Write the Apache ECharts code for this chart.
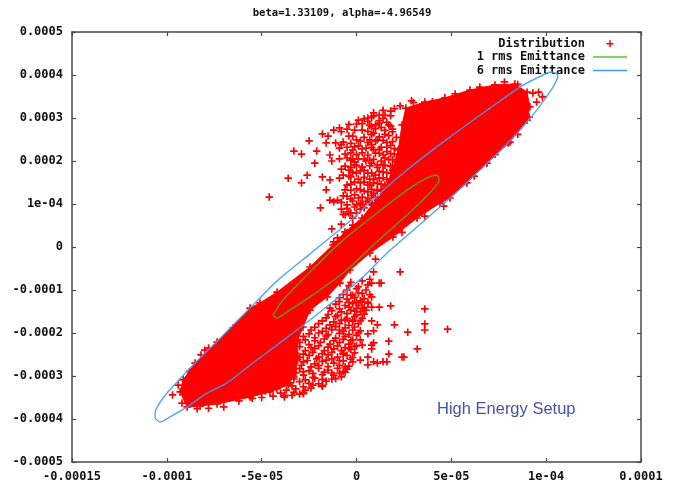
<!DOCTYPE html>
<html>
<head>
<meta charset="utf-8">
<style>html,body{margin:0;padding:0;background:#fff}#c{width:674px;height:490px}</style>
<script src="https://cdn.jsdelivr.net/npm/echarts@6/dist/echarts.min.js"></script>
</head>
<body>
<div id="c"></div>
<script>
// all point values are in units of 1e-6
const xTickLabels = ['-0.00015','-0.0001','-5e-05','0','5e-05','1e-04','0.0001'];
const yTickLabels = ['-0.0005','-0.0004','-0.0003','-0.0002','-0.0001','0','1e-04','0.0002','0.0003','0.0004','0.0005'];
const titleText = 'beta=1.33109, alpha=-4.96549';
const noteText = 'High Energy Setup';

const rms1 = [[-44,-158],[-38.7,-123],[-24.5,-58],[-7.1,16],[10.8,79],[28.2,137],[37.2,160.5],[42.4,167.5],[43.5,156],[38.7,126],[28.2,81],[10.8,12],[-7.1,-60.5],[-24.5,-116],[-36.6,-151],[-41.9,-165],[-44,-158]];

const rms6 = [[-106.2,-398],[-106.2,-386],[-102,-351],[-94.6,-314],[-86.2,-274.5],[-71.9,-212],[-56.1,-142],[-41.4,-77],[-24.5,-16],[-3.4,60.5],[10.8,118.6],[26.6,179],[49.3,256],[70.4,323],[86.2,372],[98.3,400],[103,407],[106.2,398],[103.6,372],[95.1,319],[87.7,279],[77.2,230],[65.1,179],[49.3,114],[31.9,46.5],[16.1,-14],[3.4,-70],[-19.2,-151],[-33.5,-200],[-45.6,-240],[-56.1,-274.5],[-68.2,-316],[-78.8,-340],[-89.3,-372],[-98.3,-395],[-103.6,-407],[-106.2,-398]];

// outline of the region where the marks merge into solid red
const solidCore = [[-89.3,-372],[-93,-337],[-91.4,-309],[-85.1,-270],[-73.5,-221],[-56.1,-142],[-50.9,-130],[-41.9,-105],[-24.5,-46.5],[-12.4,5],[-6.1,35],[2.9,67.5],[8.2,98],[15,133],[19,179],[22,226],[24,284],[26,323],[36,337],[46.6,347],[59.8,365],[73,377],[83.5,379],[89.9,360],[91.4,326],[89.9,295],[80.9,244],[68.8,195],[58.2,149],[49.3,114],[44,102],[31.9,67.5],[19.2,23],[7.1,-14],[-3.4,-53.5],[-8.7,-84],[-15.5,-116],[-24.5,-147],[-28.2,-186],[-31,-216],[-31,-256],[-32,-293],[-36,-321],[-45.6,-337],[-56,-349],[-73.5,-365],[-82.5,-370]];

const upperCloud = [[-46,116],[-36,160],[-29,149],[-26,167],[-33,223],[-29,216],[-25,247],[-21,223],[-22,195],[-18,163],[-14,156],[-16,133],[-14,109],[-10,109],[-19,91],[-13,42],[-14,214],[-13,200],[-18,263],[-16,242],[-15,258],[-12,272],[-9,277],[-5,274],[0,286],[6,300],[10,284],[-11,242],[-2,258],[3,272],[7,249],[0,249],[11,249],[-2,226],[3,219],[9,226],[-9,205],[-5,207],[-1,198],[3,186],[7,202],[11,191],[-8,181],[-4,179],[-7,167],[-4,165],[0,172],[6,172],[10,167],[-1,151],[4,151],[9,149],[-5,144],[-6,133],[2,133],[6,128],[11,133],[-7,119],[-3,112],[1,114],[6,114],[-8,88],[-5,98],[0,98],[4,91],[-3,79],[0,79],[-2,67],[-8,53],[-2,51],[-5,33],[-7,23],[-12,12],[-10,21],
[18,316],[20,322],[12,307],[9,305],[15,307],[18,305],[6,292],[12,294],[16,290],[8,280],[13,278],[18,281],[9,265],[15,262],[19,268],[14,248],[8,238],[13,232],[18,236],[12,218],[16,222],[20,216],[15,207],[19,203],[8,195],[14,190],[18,188],[4,178],[14,174],[18,172],[7,158],[12,160],[16,157],[6,145],[13,146],[17,143],[9,125],[13,130],[16,127],[3,100],[7,104],[11,108],[14,115],[0,190],[-3,185],[4,205],[0,215],[-5,232],[-8,238],[1,235],[5,230],[-2,205],[-12,105],[-6,75],[14,318],[9,312],[4,298],[1,295],[-4,285],[-8,268]];

const upperCloudDense = [[8,302],[14,299],[3,287],[7,283],[12,288],[17,284],[-1,272],[6,269],[10,275],[15,271],[19,274],[-4,258],[4,255],[8,261],[12,256],[17,259],[21,255],[-7,244],[-3,241],[2,246],[6,243],[10,246],[16,243],[19,245],[-9,230],[-1,233],[3,228],[8,231],[12,227],[16,232],[20,229],[-6,216],[-3,219],[6,214],[10,218],[14,214],[18,217],[-3,202],[1,205],[5,200],[9,204],[13,200],[17,203],[21,199],[-6,188],[-1,191],[3,186],[7,189],[11,185],[15,190],[19,187],[-2,174],[2,177],[8,172],[12,176],[16,173],[20,175],[-9,160],[-3,163],[1,158],[4,162],[9,157],[14,161],[18,158],[-3,146],[2,149],[7,144],[11,148],[15,144],[18,147],[-3,132],[0,135],[4,130],[8,134],[11,131],[14,134],[-5,118],[-1,121],[3,116],[8,120],[10,116],[-8,104],[-2,107],[2,102],[5,106],[8,102],[-5,90],[-1,93],[2,88],[-7,76],[-4,79]];

const lowerCloud = [[23,-58],[9,-58],[10,-28],[8,-84],[12,-84],[13,-84],[18,-137],[8,-140],[12,-140],[36,-144],[8,-172],[11,-181],[20,-181],[36,-179],[36,-193],[27,-198],[48,-191],[17,-219],[32,-237],[17,-249],[24,-256],[25,-256],[9,-195],[2,-195],[6,-202],[2,-216],[-2,-216],[3,-228],[0,-230],[8,-228],[9,-223],[8,-237],[-4,-235],[-7,-247],[-2,-267],[2,-263],[6,-274],[6,-256],[9,-267],[11,-270],[14,-267],[16,-267],[-6,-279],[-6,-291],[-9,-293],[-1,-149],[3,-142],[3,-128],[0,-128],[1,-107],[-3,-112],[-2,-170],[-6,-170],[-9,-193],[-2,-193],
[-50,-350],[-44,-347],[-38,-349],[-34,-345],[-30,-342],[-48,-335],[-42,-330],[-37,-333],[-32,-330],[-27,-333],[-24,-328],[-46,-318],[-41,-314],[-35,-316],[-30,-313],[-25,-317],[-20,-318],[-16,-312],[-13,-307],[-43,-300],[-38,-297],[-33,-302],[-28,-298],[-23,-303],[-18,-297],[-12,-298],[-8,-302],[-40,-283],[-35,-287],[-30,-283],[-25,-288],[-20,-282],[-15,-286],[-10,-282],[-5,-284],[-39,-268],[-33,-272],[-28,-267],[-22,-272],[-18,-266],[-12,-270],[-7,-265],[-35,-252],[-30,-257],[-25,-252],[-20,-256],[-15,-251],[-10,-256],[-5,-252],[-2,-257],[-34,-238],[-27,-241],[-22,-236],[-17,-241],[-12,-237],[-8,-241],[-3,-238],[-30,-222],[-25,-227],[-19,-222],[-14,-226],[-9,-222],[-4,-226],[-28,-208],[-22,-211],[-16,-207],[-11,-212],[-6,-208],[0,-205],[-24,-193],[-18,-196],[-13,-192],[-7,-196],[-20,-178],[-14,-181],[-9,-178],[-4,-182],[1,-178],[-16,-165],[-11,-162],[-5,-166],[-1,-162],[3,-166],[-13,-148],[-8,-151],[-3,-147],[2,-151],[5,-147],[-11,-133],[-6,-136],[-2,-132],[1,-136],[6,-131],[-9,-118],[-5,-121],[-1,-117],[4,-120],[8,-116],[-5,-100],[0,-97],[5,-100],[-3,-82],[3,-79],[7,-75]];

const lowerCloudDense = [[-40,-340],[-33,-338],[-28,-341],[-34,-323],[-28,-325],[-23,-321],[-18,-324],[-33,-307],[-27,-309],[-22,-305],[-18,-308],[-11,-306],[-33,-292],[-28,-290],[-23,-294],[-17,-291],[-13,-293],[-7,-290],[-34,-277],[-29,-275],[-24,-279],[-20,-276],[-15,-278],[-9,-275],[-4,-277],[-31,-262],[-26,-264],[-21,-260],[-16,-263],[-13,-260],[-9,-264],[-3,-261],[-32,-247],[-28,-249],[-23,-245],[-18,-248],[-13,-245],[-7,-249],[-1,-246],[-30,-232],[-24,-234],[-20,-230],[-15,-233],[-10,-230],[-6,-234],[-1,-231],[-27,-216],[-22,-218],[-17,-214],[-12,-218],[-7,-215],[-3,-217],[-25,-202],[-20,-200],[-15,-204],[-9,-201],[-4,-203],[1,-200],[-22,-187],[-16,-189],[-11,-185],[-6,-188],[-1,-186],[-18,-172],[-12,-174],[-8,-170],[-2,-173],[2,-171],[-15,-157],[-10,-159],[-5,-155],[0,-158],[4,-156],[-14,-142],[-9,-144],[-4,-140],[0,-143],[4,-141],[-9,-127],[-4,-129],[2,-125],[6,-128],[-7,-110],[-2,-112],[3,-108],[7,-111],[-4,-90],[1,-92],[6,-88]];

const fringeCloud = [[93,358],[98,349],[96,360],[95,337],[91,302],[80,242],[-97,-344],[-92,-363],[-94,-321],[-82,-251],[-80,-240],[30,336],[40,338],[52,356],[65,372],[78,384],[85,378],[-84,-376],[-78,-375],[-70,-372],[-62,-358],[-55,-352],[85,262],[73,215],[62,165],[46,95],[36,72],[24,34],[-88,-290],[-78,-235],[-65,-188],[23,328],[29,340],[-38,-345],[-28,-338],[-18,-322]];

const U = 1e-6;
const scale = a => a.map(p => [p[0] * U, p[1] * U]);
const plus = 'path://M-1 0L1 0M0 -1L0 1';
const lineIcon = 'path://M0 0H34V1.5H0Z';
const distPoints = scale(upperCloud.concat(upperCloudDense, lowerCloud, lowerCloudDense, fringeCloud, solidCore));
const corePoly = scale(solidCore);
const font = '"DejaVu Sans Mono", monospace';

const chart = echarts.init(document.getElementById('c'), null, {renderer: 'canvas'});
const frame = {lineStyle: {color: '#4a4a4a', width: 1.5}, show: true, onZero: false};
const ticks = {show: true, inside: true, length: 4, lineStyle: {color: '#4a4a4a', width: 1.2}};
const xBase = {type: 'value', min: -0.00015, max: 0.00015, interval: 0.00005, splitLine: {show: false}, axisLine: frame, axisTick: ticks};
const yBase = {type: 'value', min: -0.0005, max: 0.0005, interval: 0.0001, splitLine: {show: false}, axisLine: frame, axisTick: ticks};
const lab = {color: '#111', fontFamily: font, fontWeight: 'bold', fontSize: 12, margin: 9};

chart.setOption({
  animation: false,
  backgroundColor: '#fff',
  title: [
    {text: titleText, left: 337, top: 3, textAlign: 'center', textStyle: {fontFamily: font, fontWeight: 'bold', fontSize: 10.6, color: '#111'}},
    {text: noteText, left: 432, top: 396, textStyle: {fontFamily: '"Liberation Sans", sans-serif', fontWeight: 'normal', fontSize: 16.5, color: '#4a50a8'}}
  ],
  grid: {left: 72, right: 33, top: 32, bottom: 28, containLabel: false},
  legend: {
    orient: 'vertical', align: 'right', right: 42, top: 32, itemWidth: 34, itemHeight: 7, itemGap: 0,
    textStyle: {fontFamily: font, fontWeight: 'bold', fontSize: 12, color: '#111', padding: [0, 3, 0, 0], lineHeight: 13.4},
    data: [
      {name: 'Distribution', icon: plus, itemStyle: {color: 'none', borderColor: '#f00', borderWidth: 1.5}},
      {name: '1 rms Emittance', icon: lineIcon, itemStyle: {color: '#55c63a'}},
      {name: '6 rms Emittance', icon: lineIcon, itemStyle: {color: '#3f9cf5'}}
    ]
  },
  xAxis: [
    Object.assign({}, xBase, {position: 'bottom', axisLabel: Object.assign({}, lab, {formatter: (v, i) => xTickLabels[i]})}),
    Object.assign({}, xBase, {position: 'top', axisLabel: {show: false}})
  ],
  yAxis: [
    Object.assign({}, yBase, {position: 'left', axisLabel: Object.assign({}, lab, {formatter: (v, i) => yTickLabels[i]})}),
    Object.assign({}, yBase, {position: 'right', axisLabel: {show: false}})
  ],
  series: [
    {
      name: 'Distribution', type: 'scatter', data: distPoints, symbol: plus, symbolSize: 7.5, z: 3,
      itemStyle: {color: 'none', borderColor: '#ff0000', borderWidth: 1.7, opacity: 1}, silent: true
    },
    {
      name: 'core', type: 'custom', data: [0], z: 2, silent: true,
      renderItem: (params, api) => ({
        type: 'polygon',
        shape: {points: corePoly.map(p => api.coord(p))},
        style: {fill: '#ff0000', stroke: '#ff0000', lineWidth: 1}
      })
    },
    {
      name: '1 rms Emittance', type: 'line', data: scale(rms1), symbol: 'none', smooth: 0.25, z: 4, silent: true,
      lineStyle: {color: '#4fae22', width: 1.4, opacity: 0.85}
    },
    {
      name: '6 rms Emittance', type: 'line', data: scale(rms6), symbol: 'none', smooth: 0.25, z: 5, silent: true,
      lineStyle: {color: '#3f9cf5', width: 1.4, opacity: 0.9}
    }
  ]
});
</script>
</body>
</html>
